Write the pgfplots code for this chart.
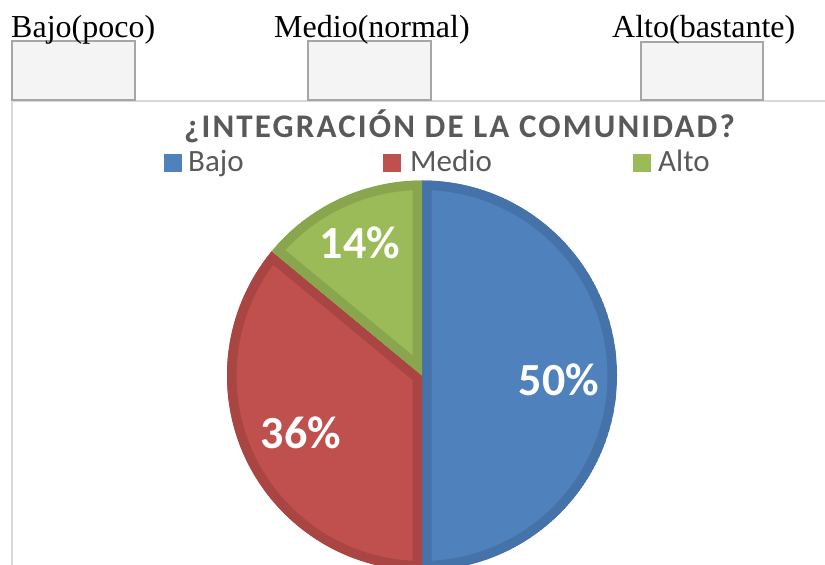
\documentclass[border=0pt]{standalone}
\usepackage{fontspec}
\setmainfont{Liberation Serif}
\newfontfamily\calfont{Carlito}
\newfontfamily\calTfont{Carlito}[LetterSpace=6.5]
\usepackage{pgfplots}
\pgfplotsset{compat=1.18}
\definecolor{bajoF}{HTML}{4F81BD}
\definecolor{bajoB}{HTML}{4572A9}
\definecolor{medioF}{HTML}{C0504D}
\definecolor{medioB}{HTML}{A94542}
\definecolor{altoF}{HTML}{9BBB59}
\definecolor{altoB}{HTML}{89A64E}
\definecolor{txtgray}{HTML}{595959}
\definecolor{boxline}{HTML}{A6A6A6}
\definecolor{boxfill}{HTML}{F4F4F4}
\definecolor{framec}{HTML}{D9D9D9}
% data (percent)
\def\vBajo{50}
\def\vMedio{36}
\def\vAlto{14}
\pgfmathsetmacro\aA{90}
\pgfmathsetmacro\aB{\aA-3.6*\vBajo}
\pgfmathsetmacro\aC{\aB-3.6*\vMedio}
\pgfmathsetmacro\aD{\aC-3.6*\vAlto}
\newcommand\slice[4]{%
  \begin{scope}
    \clip (422,189.5) -- ++(#1:195pt) arc[start angle=#1,end angle=#2,radius=195pt] -- cycle;
    \fill[#3] (422,189.5) -- ++(#1:195pt) arc[start angle=#1,end angle=#2,radius=195pt] -- cycle;
    \draw[#4,line width=19pt,line join=miter,miter limit=50] (422,189.5) -- ++(#1:195pt) arc[start angle=#1,end angle=#2,radius=195pt] -- cycle;
  \end{scope}}
\begin{document}
\begin{tikzpicture}
\begin{axis}[x=1pt,y=1pt,xmin=0,xmax=825,ymin=0,ymax=565,hide axis,clip=true]
  \coordinate (SW) at (0,0);
  \coordinate (NE) at (825,565);
  % frame
  \draw[framec,line width=1.5pt] (12,-5) -- (12,464) -- (830,464);
  % header boxes
  \draw[boxline,line width=2pt,fill=boxfill] (12,465) rectangle (135,524);
  \draw[boxline,line width=2pt,fill=boxfill] (308,465) rectangle (431,524);
  \draw[boxline,line width=2pt,fill=boxfill] (641,465) rectangle (763,523);
  \node[anchor=base west,inner sep=0,font=\fontsize{32}{32}\selectfont] at (11,527) {Bajo(poco)};
  \node[anchor=base west,inner sep=0,font=\fontsize{32}{32}\selectfont] at (274,527) {Medio(normal)};
  \node[anchor=base west,inner sep=0,font=\fontsize{32}{32}\selectfont] at (612,527) {Alto(bastante)};
  % title
  \node[anchor=base west,inner sep=0,text=txtgray,font=\calTfont\bfseries\fontsize{33}{33}\selectfont] at (184,427) {¿INTEGRACIÓN DE LA COMUNIDAD?};
  % legend
  \fill[bajoF] (164,393) rectangle (182,411);
  \node[anchor=base west,inner sep=0,text=txtgray,font=\calfont\fontsize{31}{31}\selectfont] at (188,393) {Bajo};
  \fill[medioF] (383,393) rectangle (401,411);
  \node[anchor=base west,inner sep=0,text=txtgray,font=\calfont\fontsize{31}{31}\selectfont] at (410,393) {Medio};
  \fill[altoF] (633,393) rectangle (651,411);
  \node[anchor=base west,inner sep=0,text=txtgray,font=\calfont\fontsize{31}{31}\selectfont] at (658,393) {Alto};
  % pie
  \slice{\aA}{\aB}{bajoF}{bajoB}
  \slice{\aB}{\aC}{medioF}{medioB}
  \slice{\aC}{\aD}{altoF}{altoB}
  \node[text=white,font=\calfont\bfseries\fontsize{46}{46}\selectfont] at (559,185) {\vBajo\%};
  \node[text=white,font=\calfont\bfseries\fontsize{46}{46}\selectfont] at (301,132) {\vMedio\%};
  \node[text=white,font=\calfont\bfseries\fontsize{46}{46}\selectfont] at (360,322) {\vAlto\%};
\end{axis}
\pgfresetboundingbox
\useasboundingbox (SW) rectangle (NE);
\end{tikzpicture}
\end{document}
